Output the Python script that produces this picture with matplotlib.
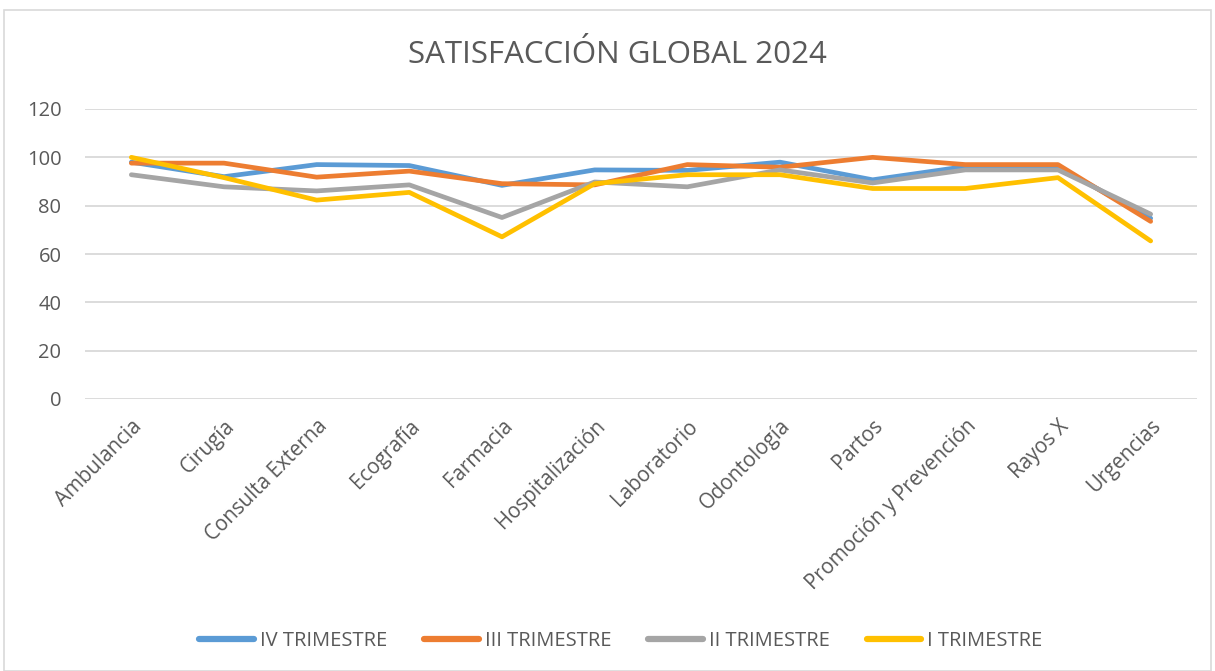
import matplotlib
matplotlib.use("Agg")
import matplotlib.pyplot as plt
from matplotlib.patches import Rectangle

plt.rcParams['font.family'] = ['Open Sans', 'DejaVu Sans']

categories = ["Ambulancia", "Cirugía", "Consulta Externa", "Ecografía", "Farmacia",
              "Hospitalización", "Laboratorio", "Odontología", "Partos",
              "Promoción y Prevención", "Rayos X", "Urgencias"]
iv_trim = [98, 92, 97, 96.6, 88.4, 94.8, 94.6, 98, 90.7, 96.2, 96, 74.8]
iii_trim = [97.6, 97.6, 91.8, 94.3, 89.1, 88.6, 97, 95.9, 100, 97, 97, 73.5]
ii_trim = [92.8, 87.8, 86.1, 88.6, 75.1, 89.8, 87.8, 94.8, 89.4, 94.8, 94.8, 76.5]
i_trim = [100, 91.6, 82.3, 85.5, 67.1, 89.1, 92.8, 92.8, 87.1, 87.1, 91.6, 65.4]

series = [("IV TRIMESTRE", iv_trim, "#5B9BD5"),
          ("III TRIMESTRE", iii_trim, "#ED7D31"),
          ("II TRIMESTRE", ii_trim, "#A5A5A5"),
          ("I TRIMESTRE", i_trim, "#FFC000")]

fig = plt.figure(figsize=(12.15, 6.71), dpi=100)
fig.patches.append(Rectangle((4/1215, 0), 1207/1215, 1 - 10/671, transform=fig.transFigure,
                             fill=False, edgecolor="#D9D9D9", linewidth=1.2))
ax = fig.add_axes([85/1215, 1 - 399/671, 1112/1215, 290/671])

x = list(range(len(categories)))
for name, vals, col in series:
    ax.plot(x, vals, color=col, linewidth=3.4, label=name, solid_capstyle='round',
            solid_joinstyle='round')

ax.set_xlim(-0.5, len(categories) - 0.5)
ax.set_ylim(0, 120)
ax.set_yticks(range(0, 121, 20))
ax.grid(axis='y', color="#D9D9D9", linewidth=1.3)
ax.set_axisbelow(True)
for s in ax.spines.values():
    s.set_visible(False)
ax.tick_params(axis='both', length=0, colors="#595959")
ax.tick_params(axis='y', pad=17, labelsize=14.5)
ax.set_xticks(x)
ax.set_xticklabels(categories, rotation=45, ha='right', rotation_mode='anchor', fontsize=14.8)
ax.tick_params(axis='x', pad=12)

fig.text(617/1215, 1 - 55/671, "SATISFACCIÓN GLOBAL 2024", ha='center', va='center',
         fontsize=22.5, color="#595959")

leg = fig.legend(loc='center', bbox_to_anchor=(621/1215, 1 - 641/671), ncol=4, frameon=False,
                 fontsize=14.5, handlelength=2.7, columnspacing=1.85, handletextpad=0.3)
for t in leg.get_texts():
    t.set_color("#595959")
for h in leg.get_lines():
    h.set_linewidth(4.5)

fig.savefig("out.png", dpi=100)
